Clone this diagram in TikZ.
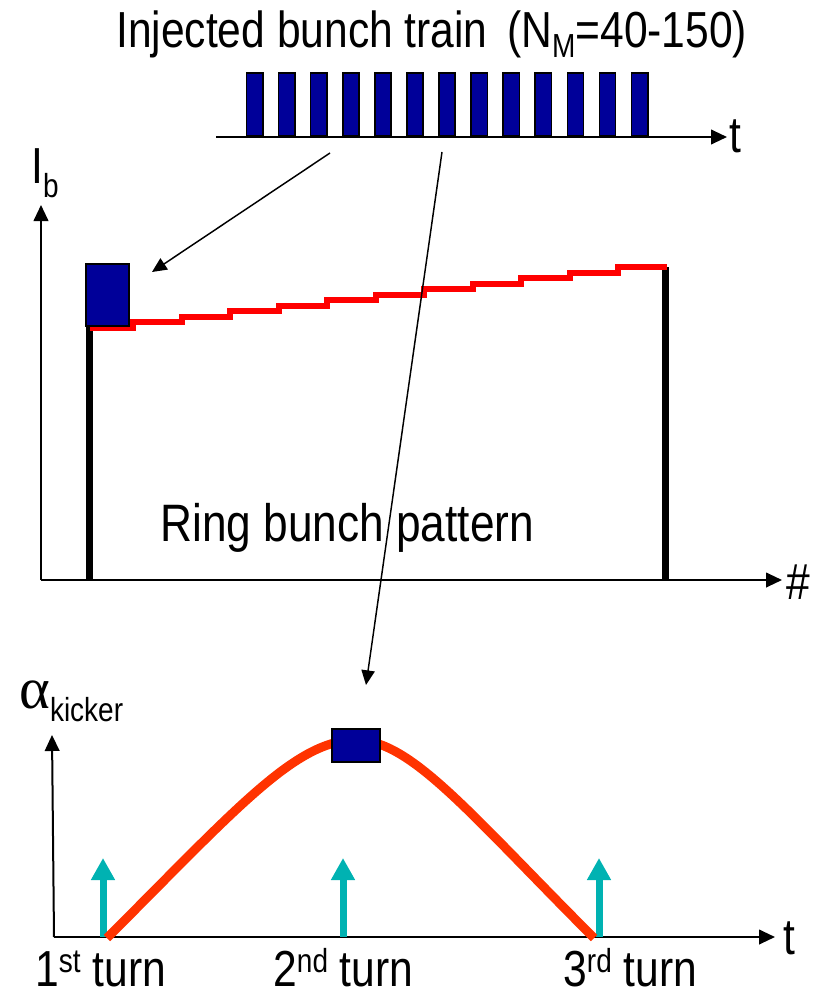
\documentclass[tikz,border=0pt]{standalone}
\usepackage{fontspec}
\setmainfont[FakeStretch=0.84]{Liberation Sans}
\newfontfamily\greekfont{Liberation Serif}
\usepackage{tikz}
\usetikzlibrary{arrows.meta}

\definecolor{bunchblue}{RGB}{0,0,153}
\definecolor{stepred}{RGB}{255,0,0}
\definecolor{kickred}{RGB}{255,51,0}
\definecolor{turncyan}{RGB}{0,178,178}

\newcommand{\lowtxt}[2]{\raisebox{-#1}{\fontsize{25}{25}\selectfont #2}}
\newcommand{\hightxt}[1]{\raisebox{10pt}{\fontsize{25}{25}\selectfont #1}}

\begin{document}
\begin{tikzpicture}[
    x=0.75pt, y=-0.75pt,
    lbl/.style={font=\fontsize{38}{44}\selectfont, inner sep=0pt, anchor=base west,
                text depth=0pt},
    bunch/.style={draw=black, line width=1.2pt, fill=bunchblue, inner sep=0pt},
    axis/.style={-{Triangle[length=12pt, width=11pt]}, line width=1.5pt},
    ptr/.style={-{Triangle[length=11pt, width=10pt]}, line width=1.1pt},
    bar/.style={line width=5.5pt},
    stair/.style={draw=stepred, line width=4.5pt},
    kick/.style={draw=kickred, line width=6.75pt},
    turn/.style={-{Triangle[length=16.5pt, width=17pt]}, draw=turncyan, line width=5.25pt},
  ]
  \useasboundingbox (0,0) rectangle (829,995);

  % Injected bunch train
  \node[lbl] (title) at (116,48) {Injected bunch train};
  \node[lbl] (count) at (507,48) {(N\lowtxt{7.5pt}{M}=40-150)};
  \foreach \i in {0,...,12}
    \node[bunch, minimum width=12.2pt, minimum height=47.25pt,
          anchor=south west] (b\i) at ({245.7+32.08*\i},137) {};
  \coordinate (trainO) at (216,137);
  \coordinate (trainT) at (727,137);
  \draw[axis] (trainO) -- (trainT);
  \node[lbl] (ttop) at (729,152) {t};

  % Ring bunch pattern
  \coordinate (ringO) at (41,580);
  \coordinate (ringY) at (41,205);
  \coordinate (ringX) at (782,580);
  \draw[axis] (ringO) -- (ringY);
  \draw[axis] (ringO) -- (ringX);
  \node[lbl] (ib) at (31,183) {I\lowtxt{11pt}{b}};
  \node[lbl] (hash) at (786,599) {\#};
  \draw[bar] (89.5,580) -- (89.5,326);
  \draw[bar] (665.5,580) -- (665.5,267);
  \draw[stair] (90,328) -- (133,328)
    \foreach \k in {1,...,11} { -- ++(0,-5.55) -- ++(48.5,0) };
  \node[bunch, minimum width=32.25pt, minimum height=46.5pt] (ringbox) at (107.5,295) {};
  \node[lbl, font=\fontsize{39.5}{44}\selectfont] (ringlbl) at (160,541) {Ring bunch pattern};

  % Kicker pulse
  \coordinate (kickO) at (54,937);
  \coordinate (kickY) at (52,735);
  \coordinate (kickX) at (775,937);
  \draw[axis] (kickO) -- (kickY);
  \draw[axis] (kickO) -- (kickX);
  \node[lbl] (alpha) at (19,708) {{\greekfont\fontsize{44}{44}\selectfont α}\lowtxt{10pt}{kicker}};
  \node[lbl] (tbot) at (783,954) {t};
  \foreach \x in {103,343,599}
    \draw[turn] (\x,937) -- (\x,858);
  \draw[kick] (107,938) .. controls (237,808) and (296,740) .. (356,740)
    .. controls (411,740) and (469,813) .. (594,938);
  \node[bunch, minimum width=36pt, minimum height=24.75pt] (kickbox) at (356,745.5) {};
  \node[lbl] (turn1) at (35,986) {1\hightxt{st} turn};
  \node[lbl] (turn2) at (273,986) {2\hightxt{nd} turn};
  \node[lbl] (turn3) at (563,986) {3\hightxt{rd} turn};

  % Where the bunches go
  \coordinate (srcA) at (330,153);
  \coordinate (hitA) at (152,272);
  \coordinate (srcB) at (442,152);
  \coordinate (hitB) at (366,685);
  \draw[ptr] (srcA) -- (hitA);
  \draw[ptr] (srcB) -- (hitB);
\end{tikzpicture}
\end{document}
